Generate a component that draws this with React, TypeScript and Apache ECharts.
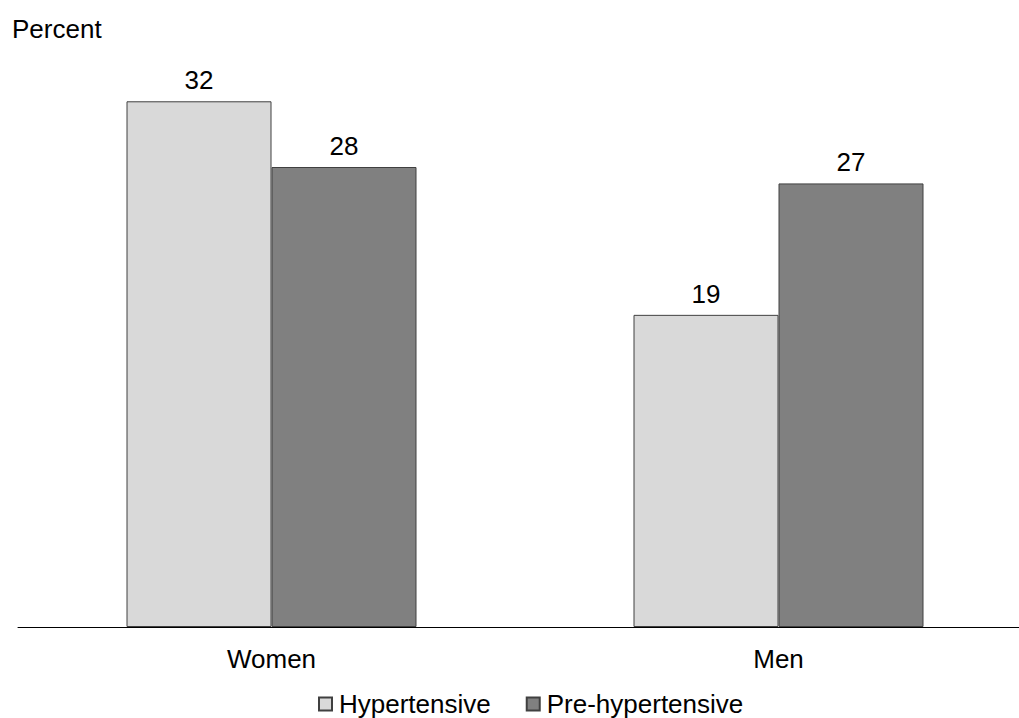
import React, { useEffect, useRef } from "react";
import * as echarts from "echarts";

const categories = ["Women", "Men"];
const hypertensive = [32, 19];
const preHypertensive = [28, 27];
const seriesNames = ["Hypertensive", "Pre-hypertensive"];
const yAxisTitle = "Percent";

export default function App() {
  const ref = useRef<HTMLDivElement>(null);
  useEffect(() => {
    const chart = echarts.init(ref.current!, null, { renderer: "svg" });
    const font = "'Liberation Sans', Arial, sans-serif";
    const labelCfg = {
      show: true,
      position: "top" as const,
      distance: 8,
      color: "#000",
      fontSize: 26,
      fontFamily: font,
    };
    chart.setOption({
      animation: false,
      backgroundColor: "#fff",
      textStyle: { fontFamily: font },
      grid: { left: 18, right: 8, top: 52, bottom: 91, containLabel: false },
      xAxis: {
        type: "category",
        data: categories,
        axisLine: { show: true, lineStyle: { color: "#000", width: 1 } },
        axisTick: { show: false },
        axisLabel: { color: "#000", fontSize: 26, fontFamily: font, margin: 19 },
      },
      yAxis: {
        type: "value",
        min: 0,
        max: 35,
        show: false,
        splitLine: { show: false },
      },
      legend: {
        left: 318,
        top: 691,
        padding: 0,
        itemWidth: 13,
        itemHeight: 13,
        itemGap: 35,
        icon: "rect",
        textStyle: {
          color: "#000",
          fontSize: 26,
          lineHeight: 24,
          fontFamily: font,
          padding: [0, 0, 0, 2],
        },
        data: seriesNames,
      },
      graphic: [
        {
          type: "text",
          left: 12,
          top: 16,
          style: { text: yAxisTitle, fontSize: 26, fontFamily: font, fill: "#000" },
        },
      ],
      series: [
        {
          name: seriesNames[0],
          type: "bar",
          data: hypertensive,
          barWidth: 145,
          barGap: "0%",
          itemStyle: { color: "#d9d9d9", borderColor: "#404040", borderWidth: 1 },
          label: labelCfg,
        },
        {
          name: seriesNames[1],
          type: "bar",
          data: preHypertensive,
          barWidth: 145,
          barGap: "0%",
          itemStyle: { color: "#808080", borderColor: "#404040", borderWidth: 1 },
          label: labelCfg,
        },
      ],
    });
    return () => chart.dispose();
  }, []);
  return (
    <div
      style={{
        position: "absolute",
        left: 0,
        top: 0,
        width: 1019,
        height: 718,
        overflow: "hidden",
        background: "#fff",
      }}
    >
      <div ref={ref} style={{ width: 1040, height: 718 }} />
    </div>
  );
}
